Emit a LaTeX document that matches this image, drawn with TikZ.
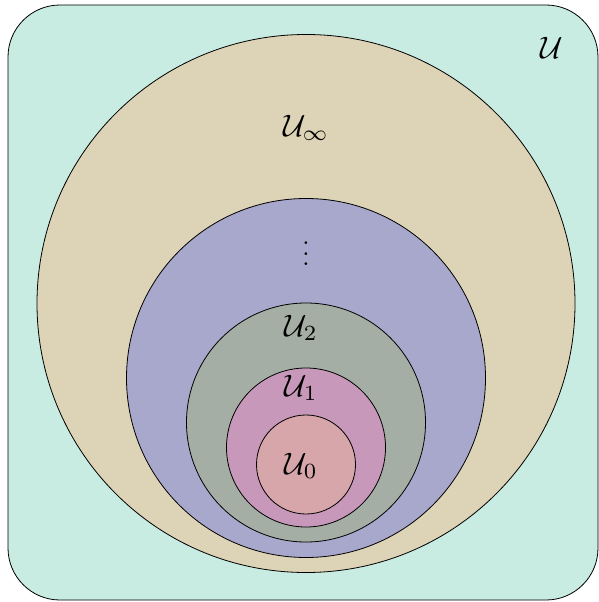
\documentclass[tikz,border=0pt]{standalone}
\usepackage{amsmath}
\definecolor{cU}{RGB}{200,236,226}
\definecolor{cInf}{RGB}{221,211,182}
\definecolor{cDots}{RGB}{168,168,204}
\definecolor{cTwo}{RGB}{164,174,164}
\definecolor{cOne}{RGB}{200,152,186}
\definecolor{cZero}{RGB}{214,166,170}
\begin{document}
\begin{tikzpicture}[x=1pt,y=-1pt,
  setc/.style={draw=black,line width=0.8pt},
  lab/.style={inner sep=0pt,scale=3.1}]
\useasboundingbox (0,0) rectangle (598,602);
\draw[setc,fill=cU,rounded corners=52pt] (8,5) rectangle (598,600);
\node[lab] (U) at (552,48) {$\mathcal{U}$};
\draw[setc,fill=cInf] (306,303.5) circle (269);
\node[lab] (Uinf) at (306,128) {$\mathcal{U}_\infty$};
\draw[setc,fill=cDots] (306,378) circle (179.5);
\node[inner sep=0pt,scale=2.6] (dots) at (306,246) {$\vdots$};
\draw[setc,fill=cTwo] (306,422.5) circle (119.5);
\node[lab] (U2) at (301,328) {$\mathcal{U}_2$};
\draw[setc,fill=cOne] (306,447.5) circle (79.5);
\node[lab] (U1) at (301,388) {$\mathcal{U}_1$};
\draw[setc,fill=cZero] (306,464.5) circle (49.5);
\node[lab] (U0) at (301,466) {$\mathcal{U}_0$};
\end{tikzpicture}
\end{document}
